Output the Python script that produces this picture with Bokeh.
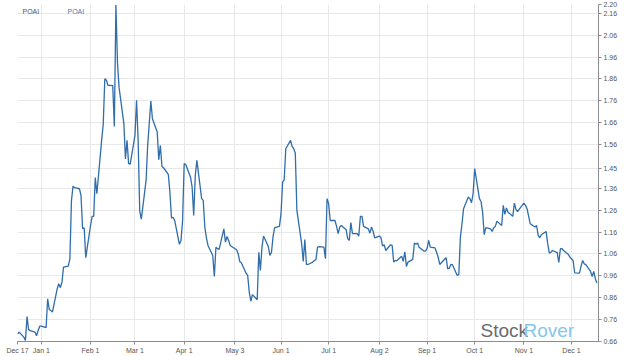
import pandas as pd
from bokeh.plotting import figure
from bokeh.models import Range1d, FixedTicker, PrintfTickFormatter, Label, ColumnDataSource
from bokeh.embed import file_html
from bokeh.resources import INLINE

ticker_symbol = "POAI"
start_date = "2020-12-17"
end_date = "2021-12-18"

# daily closes (business days)
close_dec_apr = [
    0.695, 0.703, 0.680, 0.665, 0.774, 0.714, 0.710, 0.703, 0.686, 0.710,
    0.730, 0.730, 0.723, 0.855, 0.805, 0.802, 0.794, 0.901, 0.924, 0.906,
    0.931, 1.000, 1.004, 1.038, 1.305, 1.370, 1.363, 1.358, 1.328, 1.175,
    1.180, 1.043, 1.190, 1.232, 1.232, 1.409, 1.335, 1.579, 1.652, 1.861,
    1.854, 1.831, 1.829, 1.643, 2.198, 1.930, 1.820, 1.656, 1.494, 1.579,
    1.473, 1.471, 1.602, 1.762, 1.579, 1.256, 1.219, 1.396, 1.556, 1.656,
    1.759, 1.678, 1.617, 1.491, 1.556, 1.460, 1.454, 1.424, 1.343, 1.224,
    1.228, 1.213, 1.104, 1.122, 1.213, 1.473, 1.469, 1.411, 1.366, 1.236,
    1.419, 1.488, 1.313, 1.305, 1.183, 1.134, 1.099, 1.053, 0.957,
]
close_apr_aug = [
    1.091, 1.084, 1.081, 1.175, 1.114, 1.140, 1.122, 1.099, 1.084, 1.079,
    1.061, 1.026, 1.020, 0.972, 0.962, 0.885, 0.844, 0.874, 0.851, 1.068,
    0.985, 1.091, 1.142, 1.094, 1.053, 1.068, 1.140, 1.180, 1.186, 1.244,
    1.388, 1.399, 1.541, 1.579, 1.552, 1.541, 1.521, 1.259, 1.107, 1.026,
    1.126, 1.012, 1.012, 1.023, 1.030, 1.034, 1.091, 1.094, 1.091, 1.038,
    1.313, 1.290, 1.213, 1.213, 1.186, 1.153, 1.183, 1.190, 1.171, 1.130,
    1.122, 1.203, 1.153, 1.153, 1.142, 1.232, 1.232, 1.186, 1.175, 1.155,
    1.183, 1.164, 1.134, 1.142, 1.134, 1.096, 1.102, 1.076, 1.102, 1.099,
    1.023, 1.030, 1.030, 1.050, 1.026,
]
close_aug_dec = [
    1.070, 1.003, 1.023, 1.035, 1.110, 1.104, 1.110, 1.091, 1.073, 1.073,
    1.084, 1.122, 1.091, 1.088, 1.068, 1.045, 1.012, 1.020, 1.043, 0.992,
    0.995, 1.012, 1.011, 0.962, 0.966, 1.137, 1.198, 1.267, 1.320, 1.313,
    1.294, 1.335, 1.450, 1.313, 1.300, 1.251, 1.148, 1.180, 1.175, 1.163,
    1.180, 1.186, 1.210, 1.190, 1.282, 1.241, 1.270, 1.251, 1.232, 1.292,
    1.264, 1.254, 1.264, 1.292, 1.282, 1.267, 1.232, 1.198, 1.183, 1.190,
    1.145, 1.134, 1.148, 1.163, 1.107, 1.064, 1.068, 1.076, 1.066, 1.021,
    1.084, 1.084, 1.076, 1.058, 1.045, 1.038, 1.030, 0.974, 0.972, 1.003,
    1.030, 1.015, 1.011, 0.980, 0.957, 0.980, 0.947, 0.927,
]

x_tick_dates = ["2020-12-17", "2021-01-01", "2021-02-01", "2021-03-01", "2021-04-01",
                "2021-05-03", "2021-06-01", "2021-07-01", "2021-08-02", "2021-09-01",
                "2021-10-01", "2021-11-01", "2021-12-01"]
x_tick_labels = ["Dec 17", "Jan 1", "Feb 1", "Mar 1", "Apr 1", "May 3", "Jun 1",
                 "Jul 1", "Aug 2", "Sep 1", "Oct 1", "Nov 1", "Dec 1"]
y_ticks = [0.66, 0.76, 0.86, 0.96, 1.06, 1.16, 1.26, 1.36, 1.45, 1.56, 1.66,
           1.76, 1.86, 1.96, 2.06, 2.16, 2.20]
y_min, y_max = 0.66, 2.20

closes = close_dec_apr + close_apr_aug + close_aug_dec
dates = pd.bdate_range(start_date, periods=len(closes))
source = ColumnDataSource(dict(date=dates, close=closes))

FONT = "Liberation Sans"

p = figure(width=624, height=356, x_axis_type="datetime", y_axis_location="right",
           x_range=Range1d(pd.Timestamp(start_date), pd.Timestamp(end_date)),
           y_range=Range1d(y_min, y_max),
           output_backend="svg", toolbar_location=None,
           min_border_left=17, min_border_right=26, min_border_top=4, min_border_bottom=15)
p.outline_line_color = None
p.background_fill_color = "white"
p.border_fill_color = "white"

tick_ms = [pd.Timestamp(d).value / 1e6 for d in x_tick_dates]
p.xaxis.ticker = FixedTicker(ticks=tick_ms)
p.xaxis.major_label_overrides = dict(zip(tick_ms, x_tick_labels))
p.yaxis.ticker = FixedTicker(ticks=y_ticks)
p.yaxis.formatter = PrintfTickFormatter(format="%.2f")

for ax in (p.xaxis, p.yaxis):
    ax.axis_line_color = "#8c8c8c"
    ax.major_tick_line_color = "#8c8c8c"
    ax.major_tick_out = 3
    ax.major_tick_in = 0
    ax.minor_tick_line_color = None
    ax.major_label_text_font_size = "7px"
    ax.major_label_text_font = FONT
    ax.major_label_text_color = "#555555"
    ax.major_label_standoff = 2

p.xgrid.grid_line_color = "#e8e8e8"
p.ygrid.grid_line_color = "#e8e8e8"
p.xgrid.grid_line_width = 1
p.ygrid.grid_line_width = 1

p.line("date", "close", source=source, line_color="#2f6dab", line_width=1.3)

p.add_layout(Label(x=5, y=330, x_units="screen", y_units="screen", text=ticker_symbol,
                   text_font=FONT, text_font_size="7px", text_color="#555555",
                   text_baseline="middle"))
p.add_layout(Label(x=50, y=330, x_units="screen", y_units="screen", text=ticker_symbol,
                   text_font=FONT, text_font_size="7px", text_color="#4a7fb5",
                   text_baseline="middle"))
p.add_layout(Label(x=463, y=11, x_units="screen", y_units="screen", text="Stock",
                   text_font=FONT, text_font_size="19px", text_color="#6b6b6b",
                   text_baseline="alphabetic"))
p.add_layout(Label(x=506, y=11, x_units="screen", y_units="screen", text="Rover",
                   text_font=FONT, text_font_size="19px", text_color="#86c6ec",
                   text_baseline="alphabetic"))

open("out.html", "w").write(file_html(p, INLINE))
